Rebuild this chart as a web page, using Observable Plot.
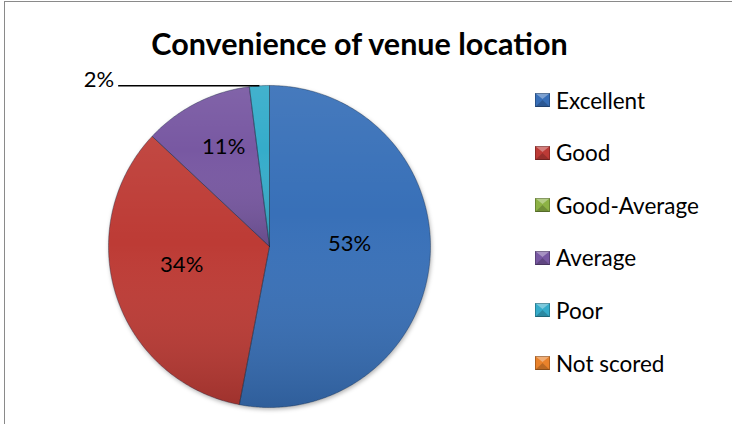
<!DOCTYPE html>
<html><head><meta charset="utf-8">
<script src="https://cdn.jsdelivr.net/npm/d3@7"></script>
<script src="https://cdn.jsdelivr.net/npm/@observablehq/plot@0.6"></script>
<style>
html,body{margin:0;padding:0;background:#fff;}
#chart{position:relative;width:732px;height:424px;overflow:hidden;font-family:Lato,"Open Sans",sans-serif;}
#frame{position:absolute;left:4px;top:1px;width:760px;height:460px;border:1px solid #8a8a8a;box-sizing:border-box;}
#plot{position:absolute;left:0;top:0;}
#legend{position:absolute;left:535px;top:0;}
.item{position:absolute;left:0;height:24px;display:flex;align-items:center;white-space:nowrap;font-size:22.5px;color:#000;}
.item svg{margin-right:6px;}
</style>
</head><body>
<div id="chart"><div id="frame"></div><div id="plot"></div><div id="legend"></div></div>
<script>
const title = "Convenience of venue location";
const categories = ["Excellent", "Good", "Good-Average", "Average", "Poor", "Not scored"];
const shares = [53, 34, 0, 11, 2, 0];
const colors = ["#386FB8", "#BD3A36", "#8DB245", "#7858A2", "#36ACCA", "#E9822B"];

const cx = 269, cy = 246, r = 161;
const data = categories.map((c, i) => ({category: c, value: shares[i]}));
const arcs = d3.pie().sort(null).value(d => d.value)(data);

const ring = [];
arcs.forEach(a => {
  const span = a.endAngle - a.startAngle;
  if (span <= 0) return;
  const n = Math.max(2, Math.ceil(span / 0.01));
  ring.push({category: a.data.category, x: 0, y: 0});
  for (let k = 0; k <= n; k++) {
    const t = a.startAngle + span * k / n;
    ring.push({category: a.data.category, x: Math.sin(t), y: Math.cos(t)});
  }
  ring.push({category: a.data.category, x: 0, y: 0});
});

const shown = arcs.filter(a => a.data.value > 0).map(a => {
  const m = (a.startAngle + a.endAngle) / 2;
  const span = a.endAngle - a.startAngle;
  const centroid = 4 * Math.sin(span / 2) / (3 * span);
  return {text: a.data.value + "%", m, value: a.data.value, rl: (centroid + 0.6) / 2};
});
const inside = shown.filter(d => d.value >= 5).map(d => ({...d, x: d.rl * Math.sin(d.m), y: d.rl * Math.cos(d.m)}));
const outside = shown.filter(d => d.value < 5).map(d => ({...d, x1: Math.sin(d.m), y1: Math.cos(d.m), x2: -0.94, y2: Math.cos(d.m)}));

const defs = () => {
  const g = d3.create("svg:defs");
  const lg = g.append("linearGradient").attr("id", "shade").attr("x1", 0).attr("y1", 0).attr("x2", 0).attr("y2", 1);
  lg.append("stop").attr("offset", 0).attr("stop-color", "#fff").attr("stop-opacity", 0.07);
  lg.append("stop").attr("offset", 0.4).attr("stop-color", "#fff").attr("stop-opacity", 0);
  lg.append("stop").attr("offset", 1).attr("stop-color", "#000").attr("stop-opacity", 0.16);
  const f = g.append("filter").attr("id", "shadow").attr("x", "-10%").attr("y", "-10%").attr("width", "120%").attr("height", "125%");
  f.append("feDropShadow").attr("dx", 1).attr("dy", 2).attr("stdDeviation", 2).attr("flood-color", "#000").attr("flood-opacity", 0.3);
  return g.node();
};

const plot = Plot.plot({
  width: 732, height: 424, margin: 0,
  x: {domain: [-1, 1], range: [cx - r, cx + r], axis: null},
  y: {domain: [-1, 1], range: [cy + r, cy - r], axis: null},
  color: {domain: categories, range: colors},
  style: {fontFamily: "Lato, 'Open Sans', sans-serif", background: "transparent", overflow: "visible"},
  marks: [
    defs,
    Plot.line(ring, {x: "x", y: "y", z: "category", fill: "category", stroke: "none", curve: "linear"}),
    Plot.line(ring, {x: "x", y: "y", z: "category", fill: "url(#shade)", stroke: "#1a2a40", strokeOpacity: 0.4, strokeWidth: 1, curve: "linear"}),
    Plot.text(inside, {x: "x", y: "y", text: "text", fontSize: 22, fill: "#000", dy: -10}),
    Plot.link(outside, {x1: "x1", y1: "y1", x2: "x2", y2: "y2", stroke: "#000", strokeWidth: 1.6}),
    Plot.text(outside, {x: "x2", y: "y2", text: "text", fontSize: 22, fill: "#000", textAnchor: "end", dx: -4, dy: -6}),
    Plot.text([title], {frameAnchor: "top", text: d => d, fontSize: 30.5, fontWeight: "bold", fill: "#000", dx: -7, dy: 33})
  ]
});
const lineGroups = d3.select(plot).selectAll("g[aria-label='line']").nodes();
if (lineGroups.length) d3.select(lineGroups[0]).attr("filter", "url(#shadow)");
document.getElementById("plot").appendChild(plot);

const color = plot.scale("color");
const legend = d3.select("#legend");
categories.forEach((c, i) => {
  const item = legend.append("div").attr("class", "item").style("top", (88 + i * 52.6) + "px");
  const s = item.append("svg").attr("width", 15).attr("height", 14);
  const col = color.apply(c);
  s.append("rect").attr("width", 15).attr("height", 14).attr("fill", col);
  s.append("polygon").attr("points", "0,0 15,0 7.5,6").attr("fill", "#fff").attr("fill-opacity", 0.35);
  s.append("polygon").attr("points", "0,14 15,14 7.5,7").attr("fill", "#000").attr("fill-opacity", 0.2);
  s.append("rect").attr("x", 0.5).attr("y", 0.5).attr("width", 14).attr("height", 13).attr("fill", "none").attr("stroke", "#000").attr("stroke-opacity", 0.25);
  item.append("span").text(c);
});
</script>
</body></html>
